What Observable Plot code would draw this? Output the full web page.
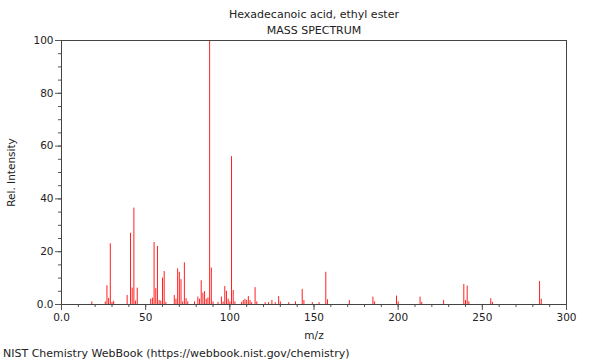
<!DOCTYPE html>
<html><head><meta charset="utf-8">
<script src="https://cdn.jsdelivr.net/npm/d3@7"></script>
<script src="https://cdn.jsdelivr.net/npm/@observablehq/plot@0.6"></script>
<style>
body{margin:0;background:#fff;font-family:"DejaVu Sans",sans-serif;}
#wrap{position:relative;width:600px;height:360px;overflow:hidden;}
.t{position:absolute;left:0;width:628px;text-align:center;font-size:11px;color:#222;line-height:13px;}
.cap{position:absolute;left:3px;top:347px;font-size:11px;color:#222;line-height:13px;}
</style></head><body>
<div id="wrap">
<div id="chart"></div>
<div class="t" style="top:8px">Hexadecanoic acid, ethyl ester</div>
<div class="t" style="top:24px">MASS SPECTRUM</div>
<div class="cap">NIST Chemistry WebBook (https://webbook.nist.gov/chemistry)</div>
</div>
<script>
const mz = [18,26,27,28,29,30,31,39,41,42,43,44,45,53,54,55,56,57,58,59,60,61,62,67,68,69,70,71,72,73,74,75,79,81,82,83,84,85,86,87,88,89,90,93,95,96,97,98,99,100,101,102,103,107,108,109,110,111,112,113,115,116,121,123,125,127,129,130,135,139,143,144,149,153,157,158,171,185,186,199,200,213,214,227,239,240,241,242,255,256,284,285];
const intensity = [1,1,7.1,2.3,23,0.8,1.2,3.4,27,6.2,36.5,1.3,6.2,2,2.4,23.5,6,22,1.5,1.3,10,12.5,0.8,3.4,2,13.5,12.2,9.4,1,15.8,2.2,1,1,2.8,2,9,4.3,4.9,2,2.5,100,13.8,1,0.8,2.8,1,6.8,5,2,1,56,5.3,1,0.8,1.5,2,1.5,3,1.5,0.7,6.4,1,0.7,0.7,1.5,0.7,3,1,0.7,1,5.7,1.5,0.7,0.7,12.2,1.8,1.5,2.8,1,3.2,1,2.8,0.8,1.5,7.6,1.5,7,1,2.2,0.8,8.7,2];
const xMajor = [0,50,100,150,200,250,300];
const yMajor = [0,20,40,60,80,100];

const data = mz.map((m,i)=>({mz:m, intensity:intensity[i]}));
const fmt = d => d === 0 ? "0.0" : String(d);

const plot = Plot.plot({
  width: 600, height: 360,
  marginLeft: 61, marginRight: 34, marginTop: 40, marginBottom: 56,
  style: {fontFamily: "DejaVu Sans", fontSize: "10.5px", color: "#222", background: "#fff"},
  x: {domain: [0,300]},
  y: {domain: [0,100]},
  marks: [
    Plot.ruleX(data, {x: "mz", y1: 0, y2: "intensity", stroke: "#ff2020", strokeWidth: 1}),
    Plot.axisX(d3.range(0,301,10), {tickSize: 3, tickFormat: () => "", label: null, stroke: "#555"}),
    Plot.axisX(xMajor, {tickSize: 6, tickPadding: 3, tickFormat: fmt, label: "m/z", labelAnchor: "center", labelArrow: "none", labelOffset: 34, stroke: "#555"}),
    Plot.axisY(d3.range(0,101,5), {tickSize: 3, tickFormat: () => "", label: null, stroke: "#555"}),
    Plot.axisY(yMajor, {tickSize: 6, tickPadding: 2, tickFormat: fmt, label: "Rel. Intensity", labelAnchor: "center", labelArrow: "none", labelOffset: 54, stroke: "#555"}),
    Plot.frame({stroke: "#444"})
  ]
});
document.getElementById("chart").appendChild(plot);
</script>
</body></html>
